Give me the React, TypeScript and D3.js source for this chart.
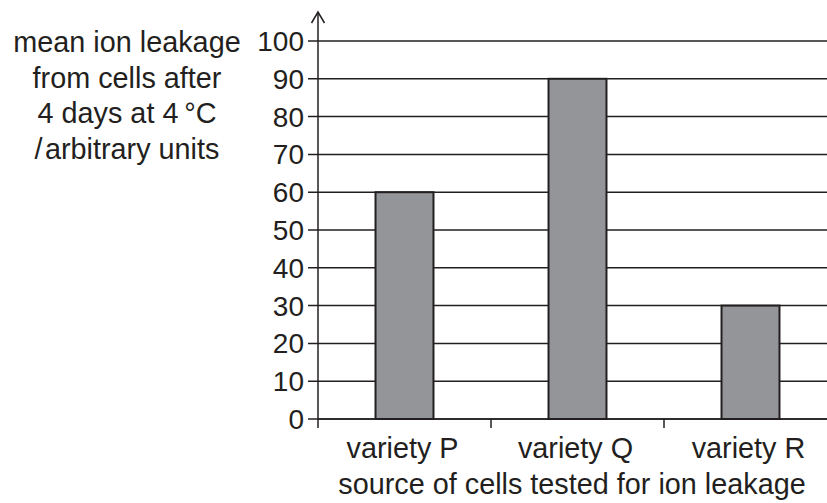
import React from "react";
import * as d3 from "d3";

const categories = ["variety P", "variety Q", "variety R"];
const values = [60, 90, 30];
const yTicks = [0, 10, 20, 30, 40, 50, 60, 70, 80, 90, 100];
const yLabelLines = ["mean ion leakage", "from cells after", "4 days at 4\u2009°C", "/\u200Aarbitrary units"];
const xTitle = "source of cells tested for ion leakage";

const W = 827;
const H = 503;
const INK = "#231f20";
const FONT = "'Liberation Sans', Arial, Helvetica, sans-serif";

export default function App() {
  const x0 = 318;
  const x1 = 837;
  const y = d3.scaleLinear().domain([0, 100]).range([419, 41]);
  const band = d3.scaleBand<string>().domain(categories).range([x0, x1]).padding(0);
  const barBand = d3
    .scaleBand<string>()
    .domain(categories)
    .range([x0, x1])
    .paddingInner(0.665)
    .paddingOuter(0.3325);

  return (
    <svg
      width={W}
      height={H}
      style={{ position: "absolute", left: 0, top: 0, background: "#fff" }}
      fontFamily={FONT}
    >
      <rect x={0} y={0} width={W} height={H} fill="#fff" />
      {yTicks.map((t) => (
        <line
          key={"g" + t}
          x1={308}
          x2={W}
          y1={y(t)}
          y2={y(t)}
          stroke={INK}
          strokeWidth={1.5}
        />
      ))}
      {yTicks.map((t) => (
        <text
          key={"t" + t}
          x={304}
          y={y(t)}
          dy="0.36em"
          textAnchor="end"
          fontSize={28}
          fill={INK}
        >
          {t}
        </text>
      ))}
      {categories.map((c, i) => (
        <rect
          key={c}
          x={barBand(c)!}
          y={y(values[i])}
          width={barBand.bandwidth()}
          height={y(0) - y(values[i])}
          fill="#939598"
          stroke={INK}
          strokeWidth={2}
        />
      ))}
      <line x1={x0} x2={W} y1={y(0)} y2={y(0)} stroke={INK} strokeWidth={1.5} />
      {categories.slice(1).map((c) => (
        <line
          key={"s" + c}
          x1={band(c)!}
          x2={band(c)!}
          y1={y(0)}
          y2={y(0) + 9}
          stroke={INK}
          strokeWidth={1.5}
        />
      ))}
      <line x1={x0} x2={x0} y1={y(0) + 9} y2={12} stroke={INK} strokeWidth={1.5} />
      <polyline
        points={`${x0 - 6.5},23 ${x0},12 ${x0 + 6.5},23`}
        fill="none"
        stroke={INK}
        strokeWidth={1.5}
      />
      {categories.map((c) => (
        <text
          key={"l" + c}
          x={band(c)! + band.bandwidth() / 2 - 2}
          y={458}
          textAnchor="middle"
          fontSize={28.8}
          fill={INK}
        >
          {c}
        </text>
      ))}
      <text x={572} y={494} textAnchor="middle" fontSize={28.8} fill={INK}>
        {xTitle}
      </text>
      {yLabelLines.map((l, i) => (
        <text
          key={"y" + i}
          x={127}
          y={52 + i * 35.5}
          textAnchor="middle"
          fontSize={28.8}
          fill={INK}
        >
          {l}
        </text>
      ))}
    </svg>
  );
}
